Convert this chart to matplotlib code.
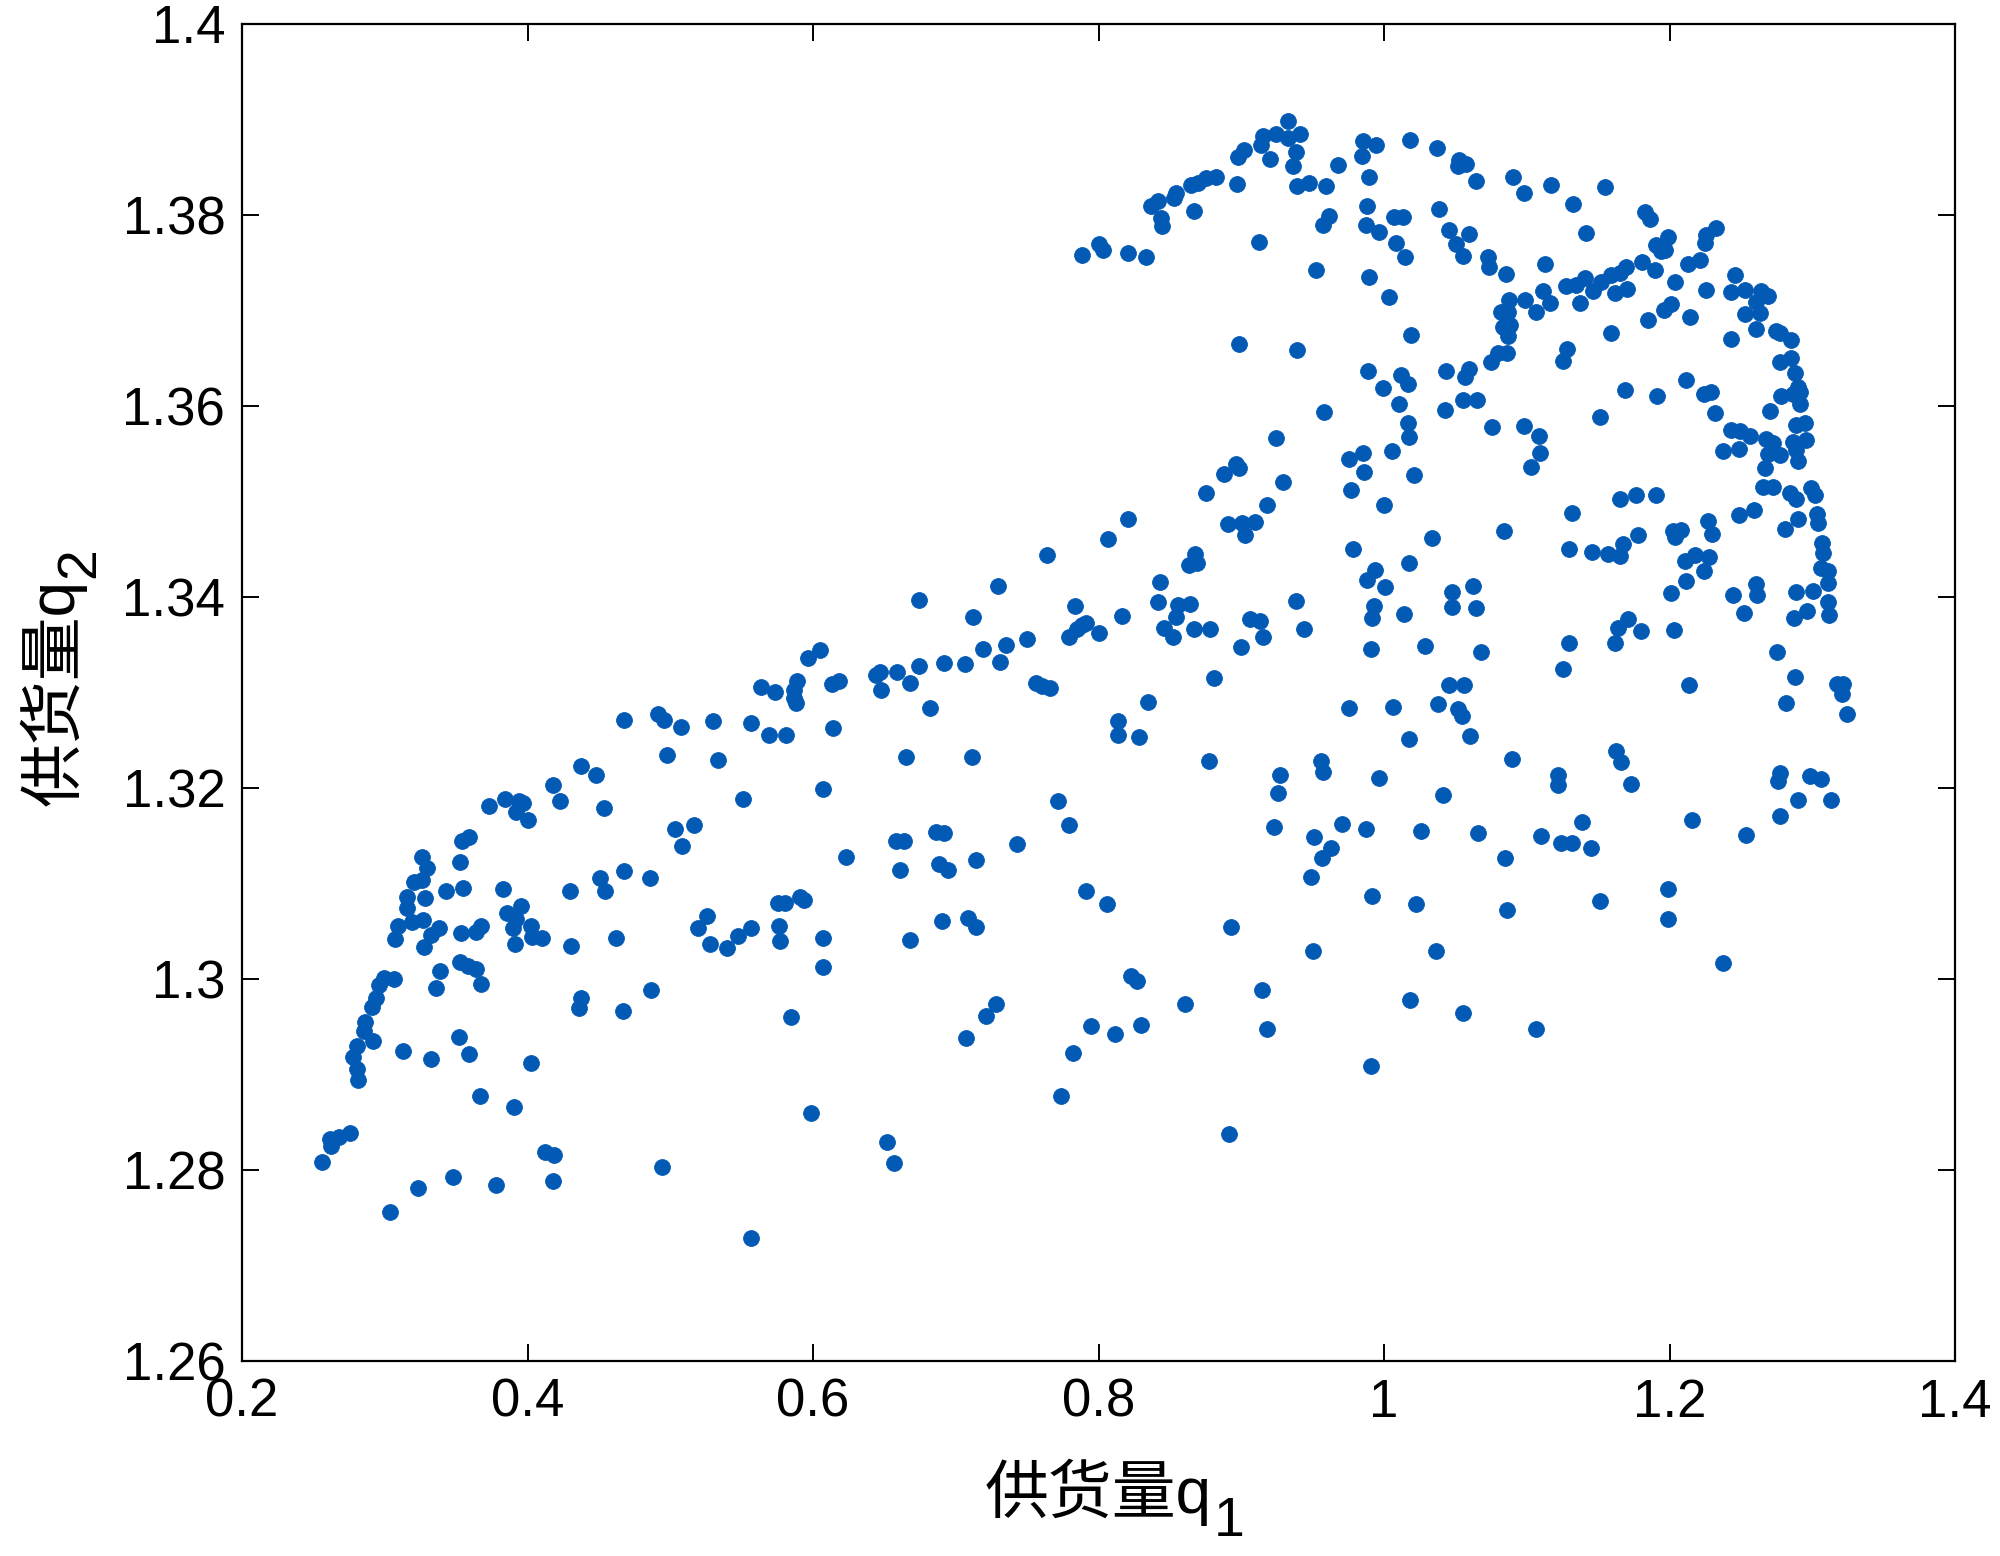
import matplotlib
matplotlib.use('Agg')
import matplotlib.pyplot as plt
from matplotlib.ticker import FuncFormatter

DOT = '#035AB5'
CJK = ['Liberation Sans', 'Noto Sans CJK SC', 'DejaVu Sans']

# 供货量 q1 (x) / q2 (y), left arc first, then the body, then the top-right cluster
q1_left = [
    0.3432, 0.3549, 0.3829, 0.4299, 0.4544, 0.3159, 0.3159, 0.3283, 0.3953, 0.3853, 0.3918,
    0.3096, 0.3194, 0.3269, 0.3381, 0.3322, 0.3533, 0.3638, 0.3673, 0.3895, 0.4028, 0.4035, 0.4105,
    0.3913, 0.3073, 0.3276, 0.4308, 0.4623, 0.5191, 0.3526, 0.3586, 0.3642, 0.3386, 0.3357, 0.3673,
    0.2996, 0.3066, 0.2960, 0.2937, 0.2909, 0.2862, 0.2855, 0.2918, 0.2809, 0.2778, 0.2809, 0.2811,
    0.3129, 0.3322, 0.3521, 0.3591, 0.4028, 0.4373, 0.4362, 0.4670, 0.4864, 0.3668, 0.3902,
    0.2615, 0.2680, 0.2755, 0.2622, 0.2559, 0.4121, 0.4187, 0.4182, 0.4941, 0.3234, 0.3481, 0.3778, 0.3035,
    0.4677, 0.4917, 0.4957, 0.5074, 0.4974, 0.4373, 0.4483, 0.4182, 0.4229, 0.4537,
    0.3731, 0.3843, 0.3937, 0.3969, 0.3918, 0.4004, 0.5032, 0.5163, 0.5081,
    0.3540, 0.3591, 0.3528, 0.3259, 0.3299, 0.3206, 0.3264, 0.4506, 0.4677, 0.4857,
]
q2_left = [
    1.3092, 1.3095, 1.3094, 1.3092, 1.3092, 1.3086, 1.3074, 1.3085, 1.3076, 1.3069, 1.3063,
    1.3056, 1.3060, 1.3062, 1.3053, 1.3046, 1.3048, 1.3049, 1.3055, 1.3053, 1.3056, 1.3044, 1.3043,
    1.3037, 1.3042, 1.3034, 1.3035, 1.3043, 1.3053, 1.3018, 1.3014, 1.3011, 1.3008, 1.2991, 1.2995,
    1.3001, 1.3000, 1.2994, 1.2980, 1.2971, 1.2955, 1.2946, 1.2935, 1.2930, 1.2918, 1.2906, 1.2894,
    1.2925, 1.2916, 1.2939, 1.2921, 1.2912, 1.2980, 1.2970, 1.2967, 1.2989, 1.2877, 1.2866,
    1.2833, 1.2835, 1.2839, 1.2825, 1.2808, 1.2819, 1.2816, 1.2789, 1.2803, 1.2781, 1.2793, 1.2784, 1.2756,
    1.3271, 1.3277, 1.3271, 1.3264, 1.3235, 1.3223, 1.3214, 1.3203, 1.3186, 1.3179,
    1.3181, 1.3188, 1.3186, 1.3184, 1.3175, 1.3166, 1.3157, 1.3161, 1.3139,
    1.3145, 1.3149, 1.3122, 1.3128, 1.3116, 1.3102, 1.3104, 1.3106, 1.3113, 1.3106,
]

q1_mid = [
    0.7636, 0.7295, 0.6741, 0.7120, 0.7832, 0.7881, 0.7909, 0.7851, 0.7792, 0.8002,
    0.7500, 0.7353, 0.7190, 0.7309, 0.7064, 0.6916, 0.6746, 0.6590, 0.6683, 0.6438, 0.6466, 0.6473,
    0.6818, 0.7559, 0.7605, 0.7659, 0.6052, 0.5966, 0.5889, 0.5866, 0.5866, 0.5882,
    0.6134, 0.6181, 0.5639, 0.5737, 0.5298, 0.5567, 0.5690, 0.5814, 0.6141,
    0.5333, 0.5511, 0.6071, 0.6648, 0.7115, 0.7715, 0.7792, 0.6228, 0.6578, 0.6636,
    0.6863, 0.6916, 0.7430, 0.7145, 0.6606, 0.6886, 0.6947,
    0.7914, 0.5258, 0.5275, 0.5399, 0.5476, 0.5569, 0.5756, 0.5807, 0.5912, 0.5936, 0.5760, 0.5767,
    0.6071, 0.6069, 0.6683, 0.6905, 0.7087, 0.7143, 0.5845, 0.7283, 0.7213, 0.7071, 0.7949, 0.7820,
    0.7739, 0.5985, 0.6519, 0.6569, 0.5569,
]
q2_mid = [
    1.3444, 1.3411, 1.3397, 1.3379, 1.3391, 1.3371, 1.3373, 1.3366, 1.3358, 1.3362,
    1.3356, 1.3350, 1.3346, 1.3332, 1.3330, 1.3331, 1.3328, 1.3321, 1.3310, 1.3318, 1.3321, 1.3303,
    1.3284, 1.3310, 1.3307, 1.3305, 1.3345, 1.3336, 1.3312, 1.3303, 1.3294, 1.3289,
    1.3309, 1.3312, 1.3306, 1.3300, 1.3270, 1.3268, 1.3256, 1.3256, 1.3263,
    1.3229, 1.3188, 1.3199, 1.3232, 1.3232, 1.3186, 1.3161, 1.3128, 1.3145, 1.3145,
    1.3154, 1.3153, 1.3141, 1.3125, 1.3114, 1.3120, 1.3114,
    1.3092, 1.3066, 1.3037, 1.3032, 1.3045, 1.3053, 1.3080, 1.3080, 1.3086, 1.3083, 1.3055, 1.3040,
    1.3043, 1.3013, 1.3041, 1.3061, 1.3064, 1.3054, 1.2960, 1.2974, 1.2961, 1.2938, 1.2951, 1.2923,
    1.2877, 1.2860, 1.2829, 1.2807, 1.2729,
]

q1_body = [
    0.9179, 1.0001, 0.8206, 0.8065, 0.8906, 0.9004, 0.9093, 0.9028, 1.0335, 0.9782,
    0.8673, 0.8689, 0.8631, 0.8432, 0.8420, 0.8168, 0.8560, 0.8642, 0.8542, 0.8462, 0.8525, 0.8666, 0.8778,
    0.9063, 0.9128, 0.9151, 0.9000, 0.9385, 0.9443, 0.8806, 1.0172, 0.9938, 0.9880, 1.0004,
    0.9927, 0.9915, 1.0142, 0.9906, 1.0289, 1.0475, 1.0475, 1.0623, 1.0644, 1.0681,
    1.0452, 1.0562, 1.0375, 1.0515, 1.0546, 1.0599, 1.0177, 1.0060, 0.9754, 0.8350, 0.8135, 0.8140,
    0.8287, 0.8775, 0.9268, 0.9256, 0.9560, 0.9576, 0.9962, 1.0410, 0.9231, 0.9511, 0.9705, 0.9873,
    0.9628, 0.9569, 0.9490, 1.0258, 1.0655,
    0.8058, 0.8929, 0.9915, 1.0226, 0.9502, 1.0363, 0.8229, 0.8269, 0.8603, 0.9144, 1.0179, 1.0553,
    0.8299, 0.8117, 0.9179, 0.9908, 0.8915,
]
q2_body = [
    1.3496, 1.3496, 1.3482, 1.3461, 1.3476, 1.3477, 1.3479, 1.3465, 1.3462, 1.3450,
    1.3445, 1.3436, 1.3434, 1.3416, 1.3395, 1.3380, 1.3392, 1.3393, 1.3379, 1.3368, 1.3358, 1.3366, 1.3366,
    1.3377, 1.3375, 1.3358, 1.3348, 1.3396, 1.3367, 1.3315, 1.3436, 1.3428, 1.3418, 1.3410,
    1.3391, 1.3378, 1.3382, 1.3346, 1.3349, 1.3405, 1.3389, 1.3411, 1.3388, 1.3342,
    1.3308, 1.3308, 1.3288, 1.3283, 1.3275, 1.3254, 1.3251, 1.3285, 1.3284, 1.3290, 1.3270, 1.3256,
    1.3253, 1.3228, 1.3214, 1.3195, 1.3228, 1.3217, 1.3210, 1.3193, 1.3159, 1.3149, 1.3162, 1.3157,
    1.3137, 1.3127, 1.3107, 1.3155, 1.3153,
    1.3079, 1.3054, 1.3087, 1.3079, 1.3029, 1.3029, 1.3003, 1.2998, 1.2974, 1.2988, 1.2978, 1.2964,
    1.2952, 1.2942, 1.2948, 1.2909, 1.2838,
]

q1_right = [
    1.1314, 1.0842, 1.1297, 1.1454, 1.1571, 1.1652, 1.1676, 1.1776, 1.2026, 1.2084, 1.2038, 1.2267, 1.2295,
    1.2488, 1.2591, 1.2902, 1.2808, 1.3030, 1.3042, 1.3065, 1.3077, 1.3060, 1.3112, 1.3112, 1.3112, 1.3117,
    1.3007, 1.2885, 1.2960, 1.2874, 1.2108, 1.2178, 1.2276, 1.2243, 1.2119, 1.2010,
    1.2446, 1.2603, 1.2610, 1.2521, 1.1706, 1.1636, 1.1617, 1.1800, 1.2033,
    1.1297, 1.1251, 1.2138, 1.2750, 1.2878, 1.2813, 1.3170, 1.3217, 1.3205, 1.3240,
    1.0898, 1.1220, 1.1216, 1.1622, 1.1659, 1.1727, 1.2773, 1.2757, 1.2984, 1.3061, 1.2897, 1.3131,
    1.2773, 1.2155, 1.2533, 1.1384, 1.1099, 1.1239, 1.1318, 1.1449, 1.0851,
    1.1991, 1.1515, 1.0865, 1.1991, 1.2376, 1.1064,
]
q2_right = [
    1.3488, 1.3469, 1.3450, 1.3447, 1.3445, 1.3443, 1.3455, 1.3465, 1.3469, 1.3470, 1.3463, 1.3480, 1.3466,
    1.3486, 1.3491, 1.3482, 1.3471, 1.3487, 1.3477, 1.3457, 1.3446, 1.3430, 1.3427, 1.3415, 1.3395, 1.3381,
    1.3406, 1.3405, 1.3385, 1.3378, 1.3438, 1.3444, 1.3442, 1.3427, 1.3417, 1.3404,
    1.3402, 1.3414, 1.3402, 1.3383, 1.3377, 1.3368, 1.3352, 1.3364, 1.3365,
    1.3352, 1.3325, 1.3308, 1.3342, 1.3316, 1.3289, 1.3309, 1.3309, 1.3298, 1.3277,
    1.3230, 1.3214, 1.3203, 1.3239, 1.3227, 1.3204, 1.3216, 1.3207, 1.3213, 1.3209, 1.3187, 1.3187,
    1.3171, 1.3167, 1.3151, 1.3164, 1.3150, 1.3142, 1.3142, 1.3137, 1.3127,
    1.3094, 1.3082, 1.3072, 1.3063, 1.3017, 1.2948,
]

q1_top = [
    0.9325, 0.9150, 0.9243, 0.9325, 0.9414, 0.9138, 0.9384, 0.9204, 0.9360, 0.9022, 0.8975, 0.8970,
    0.8823, 0.8753, 0.8695, 0.8648, 0.8543, 0.8531, 0.8414, 0.8368, 0.8438, 0.8445, 0.8671,
    0.8006, 0.8030, 0.7882, 0.8209, 0.8335, 0.9122, 0.9391, 0.9477, 0.9594, 0.9675, 0.9855, 0.9944, 0.9843,
    1.0182, 1.0371, 1.0528, 1.0575, 1.0516, 1.0645, 0.9897, 0.9881, 0.9617, 0.9570, 0.9874, 0.9967,
    1.0073, 1.0136, 1.0084, 1.0149, 1.0383, 1.0453, 1.0598, 1.0505, 1.0551, 1.0726, 1.0738,
    0.9524, 0.9897, 1.0037, 1.0189, 0.8987, 0.9388, 1.0750, 0.9886, 1.0119, 1.0166, 0.9995,
    1.0434, 1.0598, 1.0568, 1.0108, 1.0551, 1.0652, 1.0427, 0.9577, 1.0757, 1.0166, 1.0178, 1.0056,
    0.9851, 0.9757, 0.9862, 0.9769, 1.0213, 0.9243, 0.8963, 0.8986, 0.8877, 0.9290, 0.8753,
    1.0904, 1.0981, 1.1168, 1.1324, 1.1546, 1.1413, 1.1827, 1.1862, 1.1990, 1.1908, 1.1943, 1.1967,
    1.1810, 1.1900, 1.2037, 1.1126, 1.0857, 1.0874, 1.0986, 1.1068, 1.0822, 1.0869, 1.0881, 1.0869, 1.0834,
    1.0799, 1.0864, 1.1114, 1.1161, 1.1278, 1.1348, 1.1411, 1.1371,
    1.1465, 1.1523, 1.1593, 1.1652, 1.1698, 1.1616, 1.1705, 1.1593, 1.1850, 1.1960, 1.2009, 1.1285, 1.1254,
    1.1686, 1.1913, 1.1511, 1.0981, 1.1084, 1.1091, 1.1033, 1.1651, 1.1768, 1.1904,
    1.2328, 1.2253, 1.2246, 1.2211, 1.2129, 1.2456, 1.2257, 1.2428, 1.2531, 1.2643, 1.2690, 1.2608, 1.2631, 1.2526,
    1.2141, 1.2603, 1.2743, 1.2771, 1.2853, 1.2433, 1.2771, 1.2853, 1.2876, 1.2900, 1.2911, 1.2783, 1.2865, 1.2911,
    1.2117, 1.2239, 1.2293, 1.2316, 1.2701, 1.2888, 1.2946, 1.2433, 1.2491, 1.2561, 1.2374, 1.2486,
    1.2673, 1.2725, 1.2690, 1.2771, 1.2865, 1.2958, 1.2888, 1.2900, 1.2666,
    1.2655, 1.2725, 1.2841, 1.2888, 1.2993, 1.3016,
]
q2_top = [
    1.3898, 1.3883, 1.3885, 1.3881, 1.3885, 1.3873, 1.3866, 1.3859, 1.3851, 1.3868, 1.3861, 1.3832,
    1.3840, 1.3839, 1.3833, 1.3831, 1.3823, 1.3818, 1.3815, 1.3809, 1.3797, 1.3788, 1.3804,
    1.3770, 1.3763, 1.3758, 1.3760, 1.3756, 1.3772, 1.3830, 1.3833, 1.3830, 1.3852, 1.3877, 1.3873, 1.3862,
    1.3878, 1.3870, 1.3858, 1.3853, 1.3851, 1.3836, 1.3840, 1.3809, 1.3799, 1.3789, 1.3789, 1.3782,
    1.3798, 1.3798, 1.3771, 1.3756, 1.3806, 1.3784, 1.3780, 1.3770, 1.3757, 1.3756, 1.3746,
    1.3742, 1.3735, 1.3714, 1.3674, 1.3665, 1.3659, 1.3646, 1.3637, 1.3632, 1.3623, 1.3619,
    1.3637, 1.3639, 1.3630, 1.3602, 1.3606, 1.3606, 1.3596, 1.3594, 1.3578, 1.3582, 1.3567, 1.3553,
    1.3551, 1.3544, 1.3531, 1.3512, 1.3528, 1.3566, 1.3539, 1.3535, 1.3529, 1.3520, 1.3509,
    1.3840, 1.3823, 1.3831, 1.3812, 1.3829, 1.3781, 1.3803, 1.3796, 1.3777, 1.3769, 1.3762, 1.3763,
    1.3751, 1.3742, 1.3730, 1.3749, 1.3738, 1.3711, 1.3711, 1.3698, 1.3698, 1.3698, 1.3685, 1.3673, 1.3683,
    1.3655, 1.3655, 1.3720, 1.3708, 1.3726, 1.3727, 1.3734, 1.3708,
    1.3720, 1.3730, 1.3737, 1.3739, 1.3746, 1.3718, 1.3723, 1.3676, 1.3690, 1.3700, 1.3707, 1.3660, 1.3647,
    1.3617, 1.3610, 1.3588, 1.3579, 1.3569, 1.3551, 1.3536, 1.3503, 1.3507, 1.3507,
    1.3786, 1.3779, 1.3771, 1.3753, 1.3749, 1.3737, 1.3721, 1.3719, 1.3721, 1.3720, 1.3715, 1.3709, 1.3697, 1.3696,
    1.3693, 1.3681, 1.3679, 1.3676, 1.3669, 1.3670, 1.3646, 1.3650, 1.3635, 1.3620, 1.3615, 1.3610, 1.3613, 1.3602,
    1.3627, 1.3613, 1.3615, 1.3593, 1.3595, 1.3580, 1.3582, 1.3575, 1.3574, 1.3569, 1.3553, 1.3555,
    1.3565, 1.3561, 1.3550, 1.3549, 1.3562, 1.3564, 1.3554, 1.3542, 1.3535,
    1.3515, 1.3515, 1.3509, 1.3503, 1.3514, 1.3507,
]

xticks = [0.2, 0.4, 0.6, 0.8, 1.0, 1.2, 1.4]
yticks = [1.26, 1.28, 1.30, 1.32, 1.34, 1.36, 1.38, 1.40]

q1 = q1_left + q1_mid + q1_body + q1_right + q1_top
q2 = q2_left + q2_mid + q2_body + q2_right + q2_top

fig = plt.figure(figsize=(20, 15.56), dpi=100)
fig.patch.set_facecolor('white')
ax = fig.add_axes([0.121, 0.1253, 0.8565, 0.8593])

ax.scatter(q1, q2, s=130, color=DOT, edgecolors=DOT, linewidths=0.6, zorder=3)

ax.set_xlim(0.2, 1.4)
ax.set_ylim(1.26, 1.40)
ax.set_xticks(xticks)
ax.set_yticks(yticks)
fmt = FuncFormatter(lambda v, _: f'{v:g}')
ax.xaxis.set_major_formatter(fmt)
ax.yaxis.set_major_formatter(fmt)

ax.tick_params(direction='in', length=12, width=1.4, labelsize=38, pad=12,
               top=True, right=True)
for lab in ax.get_xticklabels() + ax.get_yticklabels():
    lab.set_family(CJK)
for sp in ax.spines.values():
    sp.set_linewidth(1.6)

xl = ax.set_xlabel('供货量q', fontsize=46, family=CJK, labelpad=22)
yl = ax.set_ylabel('供货量q', fontsize=46, family=CJK, labelpad=26)

# subscripts hang off the label boxes
ax.annotate('1', xy=(1, 0), xycoords=xl, xytext=(1, -16), textcoords='offset points',
            fontsize=40, family=CJK, ha='left', va='bottom')
ax.annotate('2', xy=(1, 1), xycoords=yl, xytext=(14, 1), textcoords='offset points',
            fontsize=40, family=CJK, rotation=90, ha='right', va='bottom')

fig.savefig('out.png', dpi=100, facecolor='white')
